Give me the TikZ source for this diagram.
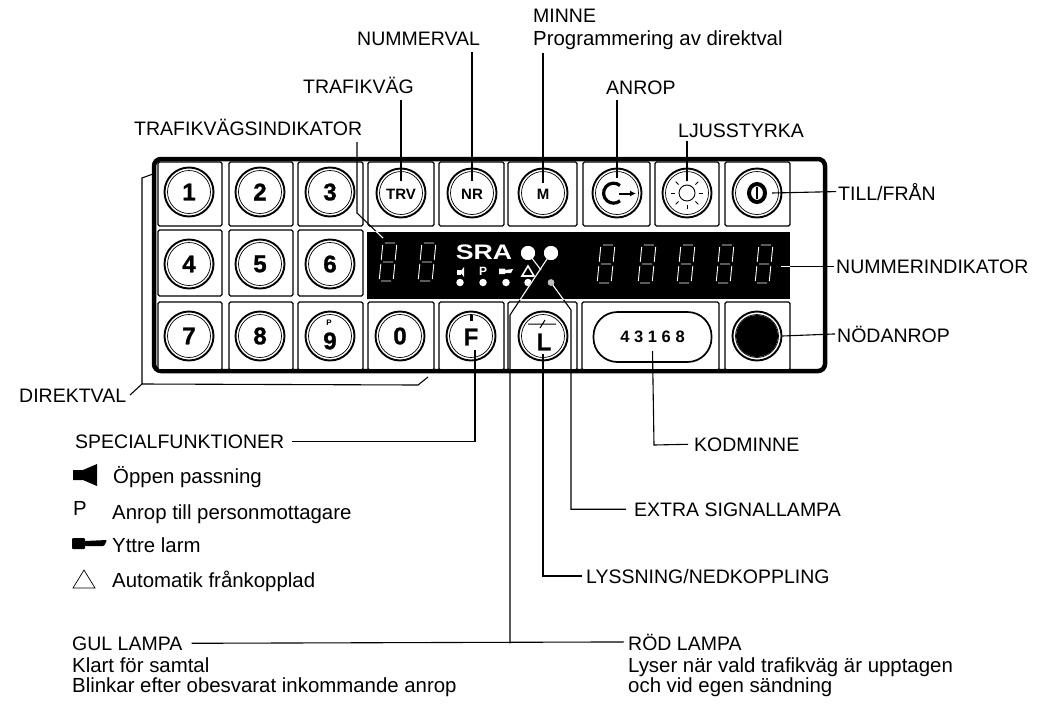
\documentclass[tikz,border=0pt]{standalone}
\usepackage{graphicx}
\usepackage{fontspec}
\setmainfont{Liberation Sans}
\setsansfont{Liberation Sans}
\usetikzlibrary{calc,arrows.meta}
\newcommand{\fsz}[1]{\fontsize{#1}{#1}\selectfont}
\tikzset{
 lab/.style={anchor=base west,inner sep=0pt,font=\fsz{19.5}},
 sublab/.style={anchor=base west,inner sep=0pt,font=\fsz{20.4}},
 keyrect/.style={draw,line width=1.3pt,rounded corners=1.5pt,fill=white},
 keyring/.style={circle,draw,line width=1.9pt,minimum size=49pt,inner sep=0pt,fill=white},
 keytxt/.style={inner sep=0pt,font=\sffamily\bfseries\fsz{24}\addfontfeature{FakeBold=1.2}},
 smalltxt/.style={inner sep=0pt,font=\sffamily\bfseries\fsz{15}},
 seg/.style={white,line width=0.9pt},
 conn/.style={line width=1.1pt,line join=miter},
 led/.style={circle,fill=white,inner sep=0pt}
}
\newcommand{\krect}[4]{\draw[keyrect] (#1,#2) rectangle (#3,#4);}
\newcommand{\kbtn}[3]{\node[keyring] (#1) at (#2,#3) {}; \draw[line width=0.7pt] (#1.center) circle[radius=21.5];}
\newcommand{\digit}[2]{\begin{scope}[shift={(#1,#2)},xslant=0.1]
 \draw[seg] (-5,-19)--(5,-19) (-5,19)--(5,19) (-5,0)--(5,0)
  (-7,-17)--(-7,-2) (7,-17)--(7,-2) (-7,2)--(-7,17) (7,2)--(7,17);
 \end{scope}}
\newcommand{\conncol}{black}
\begin{document}
\begin{tikzpicture}[x=1pt,y=-1pt]
\useasboundingbox (0,0) rectangle (1040,704);
\fill[white] (0,0) rectangle (1040,704);
% panel
\draw[line width=4.5pt,rounded corners=7pt,fill=white] (154,159) rectangle (825,371);
% key plates
\foreach \a/\b in {158/222,229/293,298/363,368/434,439/504,508/577,583/650,655/719,725/790}{\krect{\a}{162}{\b}{226}}
\foreach \a/\b in {158/222,229/293,298/363}{\krect{\a}{230}{\b}{296}}
\foreach \a/\b in {158/222,229/293,298/363,368/434,439/504,508/577,582/719,725/790}{\krect{\a}{302}{\b}{370}}
\draw[line width=4.5pt] (160,371) -- (820,371);
% display
\node[fill=black,inner sep=0pt,minimum width=423pt,minimum height=67pt] (disp) at (578.5,265.5) {};
\digit{388}{262}\digit{427}{262}
\digit{606}{264}\digit{647}{264}\digit{686}{264}\digit{725}{264}\digit{764}{264}
\node[inner sep=0pt,text=white,font=\sffamily\bfseries\fsz{21}] (sra) at (484,252) {\scalebox{1.27}[1]{SRA}};
\fill[white] (456,272) -- (460,272) -- (464,267) -- (464,277) -- (460,272) -- cycle;
\fill[white] (457,269.5) rectangle (461,274.5);
\node[inner sep=0pt,text=white,font=\sffamily\bfseries\fsz{12}] (pind) at (483,271) {P};
\fill[white] (499,268.5) rectangle (505,274) (505,270) -- (513,269) -- (511,273) -- (505,273) -- cycle;
\draw[white,line width=1.6pt] (528,266) -- (534,276) -- (522,276) -- cycle;
\foreach \n/\x in {a/460,b/483,c/506,d/528}{\node[led,minimum size=7.5pt] (dot\n) at (\x,282.5) {};}
\node[led,minimum size=14pt] (gul) at (528,253) {};
\node[led,minimum size=14pt] (rod) at (551,253) {};
\node[led,minimum size=6.5pt,fill=lightgray] (extra) at (551,282.5) {};
% buttons
\kbtn{k1}{189}{192}\kbtn{k2}{260}{192}\kbtn{k3}{330}{192}
\kbtn{ktrv}{401}{193}\kbtn{knr}{472}{193}\kbtn{km}{543}{193}
\kbtn{kan}{617}{193}\kbtn{ksun}{687}{193}\kbtn{kpow}{757}{193}
\kbtn{k4}{189}{264}\kbtn{k5}{260}{264}\kbtn{k6}{330}{264}
\kbtn{k7}{189}{336}\kbtn{k8}{260}{336}\kbtn{k9}{330}{336}\kbtn{k0}{400}{336}
\kbtn{kf}{471}{336}\kbtn{kl}{543}{336}\kbtn{kn}{757}{336}
\foreach \k/\t in {k1/1,k2/2,k3/3,k4/4,k5/5,k6/6,k7/7,k8/8,k0/0}{\node[keytxt] (t\k) at (\k) {\t};}
\node[keytxt] (t9) at (330,341) {9};
\node[inner sep=0pt,font=\sffamily\bfseries\fsz{8}] (t9p) at (329,323) {P};
\node[smalltxt] (ttrv) at ([yshift=-1pt]ktrv.center) {TRV};
\node[smalltxt] (tnr) at ([yshift=-1pt]knr.center) {NR};
\node[smalltxt] (tm) at ([yshift=-1pt]km.center) {M};
\node[keytxt] (tf) at (471,337) {F};
\fill (469.5,315) rectangle (472.5,321);
\node[keytxt] (tl) at (544,342) {L};
\draw[line width=1pt] (528,324) -- (556,324) (540,328) -- (545,320);
% anrop symbol
\draw[line width=3.2pt] (620,185.5) arc[start angle=-50,end angle=-310,radius=10];
\draw[line width=2pt,-{Latex[length=6pt,width=6pt]}] (619,193.5) -- (636,193.5);
% sun
\draw[line width=0.9pt,fill=white] (ksun.center) circle[radius=8];
\foreach \q in {0,45,90,135,180,225,270,315}{\draw[line width=0.8pt] ($(ksun.center)+(\q:12)$) -- ($(ksun.center)+(\q:16)$);}
% power
\draw[line width=4pt] (kpow.center) ellipse[x radius=8,y radius=9];
\draw[line width=2pt] (757,187) -- (757,199);
% emergency
\fill (kn.center) circle[radius=21];
% code plate
\node[draw,line width=1.7pt,rounded corners=24pt,minimum width=118pt,minimum height=50pt,inner sep=0pt,font=\sffamily\bfseries\fsz{16.5}\addfontfeature{LetterSpace=28}] (code) at (652.5,337) {43168};
% labels
\node[lab] (ltrvi) at (134,135) {TRAFIKVÄGSINDIKATOR};
\node[lab] (ltrv) at (303,93) {TRAFIKVÄG};
\node[lab] (lnr) at (357,45) {NUMMERVAL};
\node[lab] (lm) at (533,22) {MINNE};
\node[sublab] (lprog) at (533,45) {Programmering av direktval};
\node[lab] (lan) at (606,94) {ANROP};
\node[lab] (lsun) at (678,137) {LJUSSTYRKA};
\node[lab] (lpow) at (838,200) {TILL/FRÅN};
\node[lab] (lnum) at (836,273) {NUMMERINDIKATOR};
\node[lab] (lnod) at (837,342) {NÖDANROP};
\node[lab] (lkod) at (694,451) {KODMINNE};
\node[lab] (lextra) at (634,516) {EXTRA SIGNALLAMPA};
\node[lab] (llys) at (586,583) {LYSSNING/NEDKOPPLING};
\node[lab] (lrod) at (628,650) {RÖD LAMPA};
\node[sublab] (lrod1) at (628,672) {Lyser när vald trafikväg är upptagen};
\node[sublab] (lrod2) at (628,692) {och vid egen sändning};
\node[lab] (lgul) at (72,650) {GUL LAMPA};
\node[sublab] (lgul1) at (72,672) {Klart för samtal};
\node[sublab] (lgul2) at (72,692) {Blinkar efter obesvarat inkommande anrop};
\node[lab] (ldir) at (19,402) {DIREKTVAL};
\node[lab] (lspec) at (75,448) {SPECIALFUNKTIONER};
\node[sublab] (lopp) at (113,483) {Öppen passning};
\node[sublab] (lanr) at (112,519) {Anrop till personmottagare};
\node[sublab] (lytt) at (112,552) {Yttre larm};
\node[sublab] (laut) at (112,587) {Automatik frånkopplad};
\node[sublab] (lp) at (73,515) {P};
% legend symbols
\fill (73,470) rectangle (83,480) (83,470) -- (97,464) -- (97,486) -- (83,480) -- cycle;
\fill[rounded corners=1pt] (72,538) rectangle (85,549) (85,541) -- (107,540) -- (104,546) -- (85,546) -- cycle;
\draw[line width=0.7pt] (84,570) -- (95,588) -- (73,588) -- cycle;
% connectors
\coordinate (ctrvi) at (357,142); \coordinate (ctrvi2) at (357,213); \coordinate (ctrvi3) at (383,238);
\coordinate (ctrv) at (401,100); \coordinate (cnr) at (472,52); \coordinate (cm) at (543,53);
\coordinate (can) at (617,100); \coordinate (csun) at (687,141);
\coordinate (cdira) at (153,174); \coordinate (cdirb) at (142,178); \coordinate (cdirc) at (142,384);
\coordinate (cdird) at (418,385); \coordinate (cdire) at (428,377); \coordinate (cdirf) at (130,395);
\coordinate (cbend) at (510,315); \coordinate (cjunc) at (cbend |- lgul.east);
\coordinate (cgulend) at (541,270); \coordinate (cexb) at (571,310);
\newcommand{\conns}{
\draw[conn,\conncol] (ctrvi) -- (ctrvi2) -- (ctrvi3);
\draw[conn,\conncol] (ctrv) -- ([yshift=12pt]ktrv.center);
\draw[conn,\conncol] (cnr) -- ([yshift=12pt]knr.center);
\draw[conn,\conncol] (cm) -- ([yshift=10pt]km.center);
\draw[conn,\conncol] (can) -- ([yshift=15pt]kan.center);
\draw[conn,\conncol] (csun) -- ([yshift=12pt]ksun.center);
\draw[conn,\conncol] (rod.center) -- (cbend) -- (cjunc);
\draw[conn,\conncol] (gul.center) -- (cgulend);
\draw[conn,\conncol] (extra.center) -- (cexb) |- ([xshift=-8pt]lextra.west);
\draw[conn,\conncol] ([xshift=-55pt]lnum.west) -- ([xshift=-2pt]lnum.west);
}
\conns
\begin{scope}
\clip (disp.north west) rectangle (disp.south east);
\renewcommand{\conncol}{white}
\conns
\end{scope}
\node[led,minimum size=14pt] at (gul) {};
\node[led,minimum size=14pt] at (rod) {};
\node[led,minimum size=6.5pt,fill=lightgray] at (extra) {};
\draw[conn] ([xshift=15pt]kpow.center) -- ([xshift=-2pt]lpow.west);
\draw[conn] (kn.east) -- ([xshift=-2pt]lnod.west);
\draw[conn] ([yshift=-14pt]code.center) -- (654,445) -- ([xshift=-6pt]lkod.west);
\draw[conn] ([yshift=-14pt,xshift=4pt]kf.center) |- ([xshift=7pt]lspec.east);
\draw[conn] ([yshift=-18pt,xshift=0pt]kl.center) |- ([xshift=-4pt]llys.west);
\draw[conn] ([xshift=9pt]lgul.east) -- ([xshift=-4pt]lrod.west);
\draw[conn] (cdira) -- (cdirb) -- (cdirc) -- (cdird) -- (cdire);
\draw[conn] (cdirc) -- (cdirf);
\end{tikzpicture}
\end{document}
